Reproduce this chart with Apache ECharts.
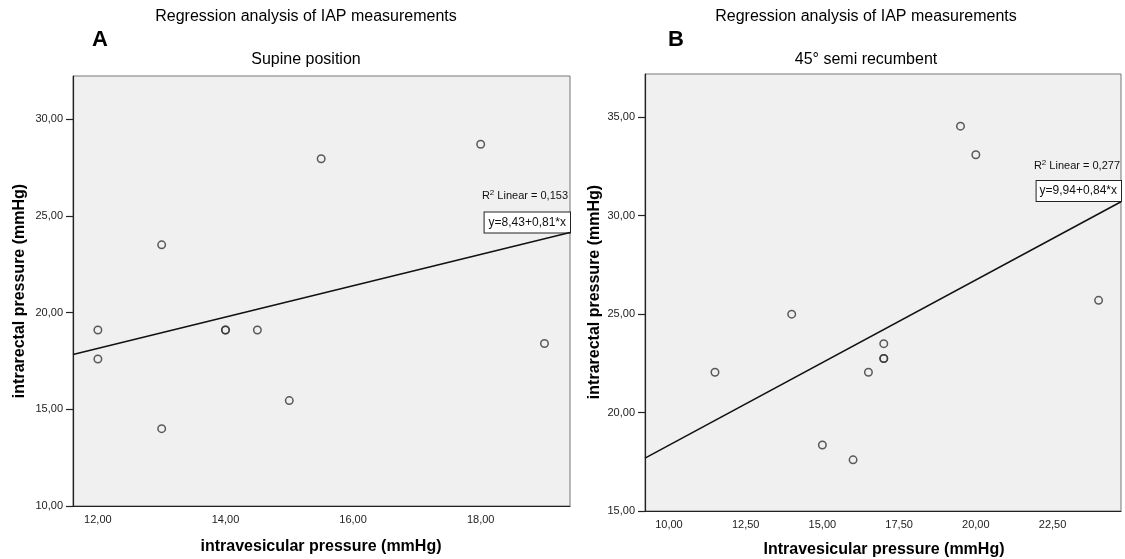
<!DOCTYPE html>
<html>
<head>
<meta charset="utf-8">
<script src="https://cdn.jsdelivr.net/npm/echarts@6/dist/echarts.min.js"></script>
<style>html,body{margin:0;padding:0;background:#fff}#c{width:1125px;height:559px}</style>
</head>
<body>
<div id="c"></div>
<script>
// Panel A: supine position
const supineX = [12, 12, 13, 13, 14, 14, 14.5, 15, 15.5, 18, 19];
const supineY = [19.1, 17.6, 23.5, 14.0, 19.1, 19.1, 19.1, 15.45, 27.95, 28.7, 18.4];
const supineFitX = [11.61, 19.40];
const supineFitY = [17.83, 24.14];
const supineXTicks = [12, 14, 16, 18];
const supineYTicks = [10, 15, 20, 25, 30];

// Panel B: 45° semi recumbent
const semiX = [11.5, 14, 15, 16, 16.5, 17, 17, 17, 19.5, 20, 24];
const semiY = [22.05, 25.0, 18.35, 17.6, 22.05, 23.5, 22.75, 22.75, 34.55, 33.1, 25.7];
const semiFitX = [9.22, 24.73];
const semiFitY = [17.69, 30.71];
const semiXTicks = [10, 12.5, 15, 17.5, 20, 22.5];
const semiYTicks = [15, 20, 25, 30, 35];

const FONT = '"Liberation Sans", Arial, sans-serif';
const fmt = v => Number(v).toFixed(2).replace('.', ',');
const pairs = (xs, ys) => xs.map((x, i) => [x, ys[i]]);

const chart = echarts.init(document.getElementById('c'), null, {renderer: 'canvas'});

function xAxis(idx, min, max, ticks) {
  return {
    type: 'value', gridIndex: idx, min: min, max: max,
    axisLine: {show: true, onZero: false, lineStyle: {color: '#222', width: 1.2}},
    axisTick: {show: false, customValues: ticks},
    axisLabel: {customValues: ticks, formatter: fmt, color: '#222', fontSize: 11, fontFamily: FONT, margin: 8},
    splitLine: {show: false}
  };
}
function yAxis(idx, min, max, ticks) {
  return {
    type: 'value', gridIndex: idx, min: min, max: max,
    axisLine: {show: true, onZero: false, lineStyle: {color: '#222', width: 1.2}},
    axisTick: {show: true, length: 7, customValues: ticks, lineStyle: {color: '#222', width: 1.2}},
    axisLabel: {customValues: ticks, formatter: fmt, color: '#222', fontSize: 11, fontFamily: FONT, margin: 10},
    splitLine: {show: false}
  };
}
const scatterStyle = {color: 'rgba(0,0,0,0)', borderColor: '#333', borderWidth: 1.5};

const option = {
  backgroundColor: '#fff',
  animation: false,
  grid: [
    {left: 73, top: 76, width: 497, height: 430, show: true, backgroundColor: '#f0f0f0', borderColor: '#777', borderWidth: 1},
    {left: 645, top: 74, width: 476, height: 437, show: true, backgroundColor: '#f0f0f0', borderColor: '#777', borderWidth: 1}
  ],
  xAxis: [xAxis(0, 11.61, 19.40, supineXTicks), xAxis(1, 9.22, 24.73, semiXTicks)],
  yAxis: [yAxis(0, 10, 32.23, supineYTicks), yAxis(1, 15, 37.2, semiYTicks)],
  series: [
    {type: 'line', xAxisIndex: 0, yAxisIndex: 0, data: pairs(supineFitX, supineFitY), symbol: 'none',
     lineStyle: {color: '#111', width: 1.5}, silent: true},
    {type: 'scatter', xAxisIndex: 0, yAxisIndex: 0, data: pairs(supineX, supineY), symbol: 'circle', symbolSize: 7.5, itemStyle: scatterStyle},
    {type: 'line', xAxisIndex: 1, yAxisIndex: 1, data: pairs(semiFitX, semiFitY), symbol: 'none',
     lineStyle: {color: '#111', width: 1.5}, silent: true},
    {type: 'scatter', xAxisIndex: 1, yAxisIndex: 1, data: pairs(semiX, semiY), symbol: 'circle', symbolSize: 7.5, itemStyle: scatterStyle}
  ],
  graphic: [
    {type: 'text', x: 306, y: 17, style: {text: 'Regression analysis of IAP measurements', fill: '#000', font: '16px ' + FONT, align: 'center', verticalAlign: 'middle'}},
    {type: 'text', x: 866, y: 17, style: {text: 'Regression analysis of IAP measurements', fill: '#000', font: '16px ' + FONT, align: 'center', verticalAlign: 'middle'}},
    {type: 'text', x: 100, y: 40, style: {text: 'A', fill: '#000', font: 'bold 22px ' + FONT, align: 'center', verticalAlign: 'middle'}},
    {type: 'text', x: 676, y: 40, style: {text: 'B', fill: '#000', font: 'bold 22px ' + FONT, align: 'center', verticalAlign: 'middle'}},
    {type: 'text', x: 306, y: 60, style: {text: 'Supine position', fill: '#000', font: '16px ' + FONT, align: 'center', verticalAlign: 'middle'}},
    {type: 'text', x: 866, y: 60, style: {text: '45° semi recumbent', fill: '#000', font: '16px ' + FONT, align: 'center', verticalAlign: 'middle'}},
    {type: 'text', x: 321, y: 547, style: {text: 'intravesicular pressure (mmHg)', fill: '#000', font: 'bold 16px ' + FONT, align: 'center', verticalAlign: 'middle'}},
    {type: 'text', x: 884, y: 550, style: {text: 'Intravesicular pressure (mmHg)', fill: '#000', font: 'bold 16px ' + FONT, align: 'center', verticalAlign: 'middle'}},
    {type: 'text', x: 20, y: 291, rotation: Math.PI / 2, style: {text: 'intrarectal pressure (mmHg)', fill: '#000', font: 'bold 16px ' + FONT, align: 'center', verticalAlign: 'middle'}},
    {type: 'text', x: 595, y: 292, rotation: Math.PI / 2, style: {text: 'intrarectal pressure (mmHg)', fill: '#000', font: 'bold 16px ' + FONT, align: 'center', verticalAlign: 'middle'}},
    // R² annotations
    {type: 'text', x: 568, y: 196, style: {
      text: '{a|R}{s|2}{a| Linear = 0,153}', align: 'right', verticalAlign: 'middle',
      rich: {a: {fontSize: 11, fontFamily: FONT, fill: '#111'}, s: {fontSize: 8, fontFamily: FONT, fill: '#111', verticalAlign: 'top', padding: [0, 0, 6, 0]}}
    }},
    {type: 'text', x: 1120, y: 166, style: {
      text: '{a|R}{s|2}{a| Linear = 0,277}', align: 'right', verticalAlign: 'middle',
      rich: {a: {fontSize: 11, fontFamily: FONT, fill: '#111'}, s: {fontSize: 8, fontFamily: FONT, fill: '#111', verticalAlign: 'top', padding: [0, 0, 6, 0]}}
    }},
    {type: 'text', x: 570, y: 222.5, style: {
      text: 'y=8,43+0,81*x', align: 'right', verticalAlign: 'middle', font: '12px ' + FONT, fill: '#111',
      backgroundColor: '#fff', borderColor: '#222', borderWidth: 1, padding: [4, 4, 4, 4]
    }},
    {type: 'text', x: 1121, y: 191, style: {
      text: 'y=9,94+0,84*x', align: 'right', verticalAlign: 'middle', font: '12px ' + FONT, fill: '#111',
      backgroundColor: '#fff', borderColor: '#222', borderWidth: 1, padding: [4, 4, 4, 3]
    }}
  ]
};
chart.setOption(option);
</script>
</body>
</html>
